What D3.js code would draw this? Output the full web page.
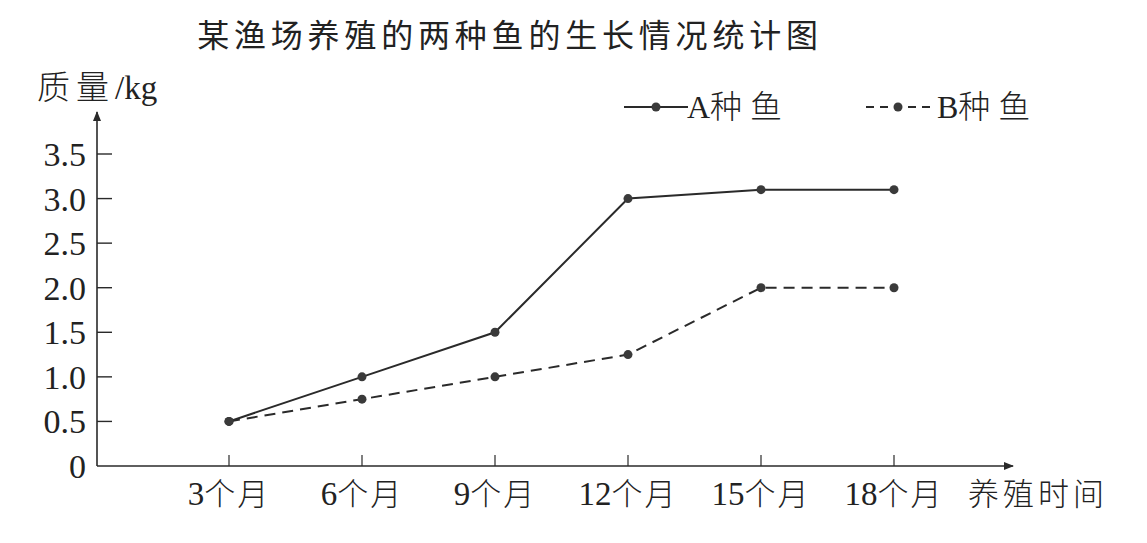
<!DOCTYPE html>
<html>
<head>
<meta charset="utf-8">
<title>某渔场养殖的两种鱼的生长情况统计图</title>
<script src="https://cdn.jsdelivr.net/npm/d3@7"></script>
<style>
  body { margin: 0; background: #fff; }
  text { fill: #222; }
  .cjk { font-family: "Noto Sans CJK SC", sans-serif; }
  .num { font-family: "Liberation Serif", "DejaVu Serif", serif; }
</style>
</head>
<body>
<div id="chart"></div>
<script>
var months = ["3个月", "6个月", "9个月", "12个月", "15个月", "18个月"];
var fishA = [0.5, 1.0, 1.5, 3.0, 3.1, 3.1];
var fishB = [0.5, 0.75, 1.0, 1.25, 2.0, 2.0];
var yTicks = [0, 0.5, 1.0, 1.5, 2.0, 2.5, 3.0, 3.5];
var seriesNames = ["A种鱼", "B种鱼"];

var width = 1147, height = 543;
var ox = 97, oy = 466;   // axis origin

var svg = d3.select("#chart").append("svg")
    .attr("width", width)
    .attr("height", height);

var x = d3.scalePoint().domain(months).range([229, 894]);
var y = d3.scaleLinear().domain([0, 3.5]).range([oy, 154]);

var ink = "#2a2a2a";

svg.append("defs").append("marker")
    .attr("id", "arrow")
    .attr("viewBox", "0 0 10 10")
    .attr("refX", 9).attr("refY", 5)
    .attr("markerWidth", 10).attr("markerHeight", 10)
    .attr("markerUnits", "userSpaceOnUse")
    .attr("orient", "auto")
  .append("path")
    .attr("d", "M0,1 L10,5 L0,9 Z")
    .attr("fill", ink);

// title
svg.append("text")
    .attr("class", "cjk")
    .attr("x", 510).attr("y", 47)
    .attr("text-anchor", "middle")
    .style("font-size", "32px")
    .style("letter-spacing", "4.8px")
    .text("某渔场养殖的两种鱼的生长情况统计图");

// axes lines with arrows
svg.append("line")
    .attr("x1", ox).attr("y1", oy).attr("x2", ox).attr("y2", 112)
    .attr("stroke", ink).attr("stroke-width", 1.6)
    .attr("marker-end", "url(#arrow)");
svg.append("line")
    .attr("x1", ox).attr("y1", oy).attr("x2", 1013).attr("y2", oy)
    .attr("stroke", ink).attr("stroke-width", 1.6)
    .attr("marker-end", "url(#arrow)");

// y ticks (point inward) and labels
var yAxis = svg.append("g");
yAxis.selectAll("line").data(yTicks.filter(d => d > 0)).enter().append("line")
    .attr("x1", ox).attr("x2", ox + 15)
    .attr("y1", d => y(d)).attr("y2", d => y(d))
    .attr("stroke", ink).attr("stroke-width", 1.4);
yAxis.selectAll("text").data(yTicks).enter().append("text")
    .attr("class", "num")
    .attr("x", 86)
    .attr("y", d => y(d) + 12)
    .attr("text-anchor", "end")
    .style("font-size", "34px")
    .text(d => d === 0 ? "0" : d3.format(".1f")(d));

// x ticks (point up) and labels
var xAxis = svg.append("g");
xAxis.selectAll("line").data(months).enter().append("line")
    .attr("x1", d => x(d)).attr("x2", d => x(d))
    .attr("y1", oy).attr("y2", oy - 11)
    .attr("stroke", ink).attr("stroke-width", 1.2);
var xl = xAxis.selectAll("text").data(months).enter().append("text")
    .attr("x", d => x(d))
    .attr("y", 505)
    .attr("text-anchor", "middle")
    .style("font-size", "31px");
xl.append("tspan").attr("class", "num").style("font-size", "33px").text(d => d.replace("个月", ""));
xl.append("tspan").attr("class", "cjk").style("font-weight", "300")
    .style("letter-spacing", "2px").text("个月");

// axis names
var yl = svg.append("text").attr("x", 37).attr("y", 99).style("font-size", "33px");
yl.append("tspan").attr("class", "cjk").style("font-weight", "300")
    .style("letter-spacing", "6px").text("质量");
yl.append("tspan").attr("class", "num").text("/kg");

svg.append("text")
    .attr("class", "cjk")
    .attr("x", 968).attr("y", 505)
    .style("font-size", "31px")
    .style("font-weight", "300")
    .style("letter-spacing", "4px")
    .text("养殖时间");

// series lines
var line = d3.line()
    .x((d, i) => x(months[i]))
    .y(d => y(d));

var series = [
  { name: seriesNames[0], values: fishA, dash: null },
  { name: seriesNames[1], values: fishB, dash: "11,7" }
];

series.forEach(function(s) {
  svg.append("path")
      .datum(s.values)
      .attr("d", line)
      .attr("fill", "none")
      .attr("stroke", ink)
      .attr("stroke-width", 2)
      .attr("stroke-dasharray", s.dash);
  svg.selectAll(null).data(s.values).enter().append("circle")
      .attr("cx", (d, i) => x(months[i]))
      .attr("cy", d => y(d))
      .attr("r", 4.5)
      .attr("fill", "#3a3a3a");
});

// legend
var legendX = [624, 866];
series.forEach(function(s, i) {
  var g = svg.append("g").attr("transform", "translate(" + legendX[i] + ",107)");
  g.append("line")
      .attr("x1", 0).attr("x2", 64).attr("y1", 0).attr("y2", 0)
      .attr("stroke", ink).attr("stroke-width", 2)
      .attr("stroke-dasharray", s.dash ? "8,6" : null);
  g.append("circle").attr("cx", 32).attr("cy", 0).attr("r", 4.5).attr("fill", "#3a3a3a");
  var t = g.append("text").attr("x", i === 0 ? 63 : 71).attr("y", 11).style("font-size", "32px");
  t.append("tspan").attr("class", "num").text(s.name.charAt(0));
  t.append("tspan").attr("class", "cjk").style("font-weight", "300")
      .style("letter-spacing", "8px").text(s.name.slice(1));
});
</script>
</body>
</html>
